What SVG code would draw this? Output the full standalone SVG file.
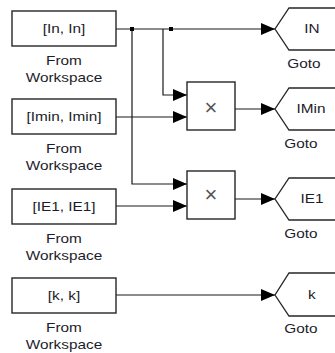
<svg xmlns="http://www.w3.org/2000/svg" width="335" height="353" viewBox="0 0 335 353">
  <style>
    .blk { fill: #ffffff; stroke: #262626; stroke-width: 1.4; }
    .goto { fill: #ffffff; stroke: #262626; stroke-width: 1.3; }
    .wire { fill: none; stroke: #1a1a1a; stroke-width: 1.2; }
    .dot { fill: #000000; }
    text { font-family: "Liberation Sans", Arial, sans-serif; font-size: 13px; fill: #1c1c2a; text-anchor: middle;
           transform-box: fill-box; transform-origin: center; transform: scaleX(1.18); }
    .op { font-size: 22px; fill: #555555; transform: none; }
  </style>
  <defs>
    <marker id="arr" viewBox="0 0 14 12" refX="14" refY="6" markerWidth="14" markerHeight="12" markerUnits="userSpaceOnUse" orient="auto">
      <path d="M0,0 L14,6 L0,12 Z" fill="#000000"/>
    </marker>
  </defs>

  <!-- signal lines -->
  <g id="connectors">
    <path class="wire" d="M116,29 H275" marker-end="url(#arr)"/>
    <path class="wire" d="M132,29 V184 H187" marker-end="url(#arr)"/>
    <path class="wire" d="M163,29 V95 H187" marker-end="url(#arr)"/>
    <path class="wire" d="M116,117 H187" marker-end="url(#arr)"/>
    <path class="wire" d="M116,206 H187" marker-end="url(#arr)"/>
    <path class="wire" d="M235,109 H275" marker-end="url(#arr)"/>
    <path class="wire" d="M235,199 H275" marker-end="url(#arr)"/>
    <path class="wire" d="M116,295 H275" marker-end="url(#arr)"/>
    <rect class="dot" x="130" y="27" width="4" height="4"/>
    <rect class="dot" x="169" y="27" width="4" height="4"/>
  </g>

  <!-- From Workspace blocks -->
  <g id="from-in">
    <rect class="blk" x="12" y="11" width="104" height="35"/>
    <text x="64" y="33">[In, In]</text>
    <text x="64" y="65">From</text>
    <text x="64" y="82">Workspace</text>
  </g>
  <g id="from-imin">
    <rect class="blk" x="12" y="99" width="104" height="35"/>
    <text x="64" y="121">[Imin, Imin]</text>
    <text x="64" y="153">From</text>
    <text x="64" y="170">Workspace</text>
  </g>
  <g id="from-ie1">
    <rect class="blk" x="12" y="189" width="104" height="35"/>
    <text x="64" y="211">[IE1, IE1]</text>
    <text x="64" y="243">From</text>
    <text x="64" y="260">Workspace</text>
  </g>
  <g id="from-k">
    <rect class="blk" x="12" y="278" width="104" height="35"/>
    <text x="64" y="300">[k, k]</text>
    <text x="64" y="332">From</text>
    <text x="64" y="349">Workspace</text>
  </g>

  <!-- Product blocks -->
  <g id="product-imin">
    <rect class="blk" x="187" y="82" width="48" height="48"/>
    <text class="op" x="211" y="114.5">×</text>
  </g>
  <g id="product-ie1">
    <rect class="blk" x="187" y="171" width="48" height="48"/>
    <text class="op" x="211" y="201.5">×</text>
  </g>

  <!-- Goto blocks -->
  <g id="goto-in">
    <path class="goto" d="M340,8 H289 L275,29 L289,50 H340"/>
    <text x="312" y="33.5">IN</text>
    <text x="304" y="68">Goto</text>
  </g>
  <g id="goto-imin">
    <path class="goto" d="M340,88 H289 L275,109 L289,130 H340"/>
    <text x="311" y="113.5">IMin</text>
    <text x="301" y="148">Goto</text>
  </g>
  <g id="goto-ie1">
    <path class="goto" d="M340,178 H289 L275,199 L289,220 H340"/>
    <text x="312" y="203.5">IE1</text>
    <text x="301" y="238">Goto</text>
  </g>
  <g id="goto-k">
    <path class="goto" d="M340,273 H289 L275,295 L289,316 H340"/>
    <text x="312" y="299">k</text>
    <text x="301" y="333">Goto</text>
  </g>
</svg>
